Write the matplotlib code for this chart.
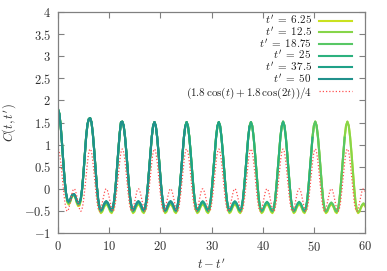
import numpy as np
import matplotlib
matplotlib.use('Agg')
import matplotlib.pyplot as plt
from matplotlib.ticker import FuncFormatter

plt.rcParams['mathtext.fontset'] = 'cm'

# waiting times t' and where each run stops (t_max = 75)
t_primes = [6.25, 12.5, 18.75, 25, 37.5, 50]
t_max = 75.0
labels = ["$t'\\;=\\;6.25$", "$t'\\;=\\;12.5$", "$t'\\;=\\;18.75$", "$t'\\;=\\;25$",
          "$t'\\;=\\;37.5$", "$t'\\;=\\;50$"]
colors = [plt.cm.viridis(v) for v in [0.92, 0.82, 0.74, 0.64, 0.57, 0.50]]

first_period = [1.80, 1.70, 1.42, 1.02, 0.58, 0.18, -0.10, -0.25, -0.29, -0.25, -0.17, -0.12,
                -0.12, -0.17, -0.26, -0.32, -0.31, -0.22, 0.00, 0.35, 0.78, 1.18, 1.46, 1.58]
steady_period = [1.52, 1.43, 1.18, 0.83, 0.43, 0.05, -0.24, -0.42, -0.48, -0.45, -0.37, -0.31,
                 -0.28, -0.31, -0.37, -0.45, -0.48, -0.42, -0.24, 0.05, 0.43, 0.83, 1.18, 1.43]
# peak height at the start of each later period
period_peaks = [1.60, 1.52, 1.51, 1.51, 1.51, 1.51, 1.52, 1.52, 1.52, 1.52]
# how much deeper the troughs of each curve sit
trough_offsets = [-0.07, -0.05, -0.03, -0.015, 0.0, 0.0]

step = np.pi / 12
base = list(first_period)
for pk in period_peaks:
    per = np.array(steady_period)
    per = np.where(per > 0, per * pk / steady_period[0], per)
    base += list(per)
base = np.array(base)
tt = np.arange(len(base)) * step

fig = plt.figure(figsize=(3.87, 2.71), dpi=100)
ax = fig.add_axes([0.1499, 0.1402, 0.7934, 0.8155])

for tp, lab, col, off in zip(t_primes, labels, colors, trough_offsets):
    vals = base + off * np.clip(-base / 0.3, 0, 1)
    keep = tt <= t_max - tp
    ax.plot(tt[keep], vals[keep], color=col, lw=1.5, solid_capstyle='butt')

# reference curve given in the legend
t_ref = np.linspace(0, 60, 1500)
c_ref = (1.8 * np.cos(t_ref) + 1.8 * np.cos(2 * t_ref)) / 4
ax.plot(t_ref, c_ref, color='#ff5050', lw=0.9, ls=(0, (1, 1.6)))

# legend drawn by hand so the text is right aligned like gnuplot
leg_labels = labels + [r'$(1.8\,\cos(t) + 1.8\,\cos(2t))/4$']
y0 = 0.961
dy = 0.0529
for i, lab in enumerate(leg_labels):
    y = y0 - i * dy
    if i < len(colors):
        ax.text(0.827, y, lab, transform=ax.transAxes, ha='right', va='center', fontsize=8, color='#202020')
        ax.plot([0.850, 0.958], [y, y], transform=ax.transAxes, color=colors[i], lw=1.5)
    else:
        ax.text(0.827, y - 0.01, lab, transform=ax.transAxes, ha='right', va='center', fontsize=8,
                color='#202020')
        ax.plot([0.850, 0.958], [y, y], transform=ax.transAxes, color='#ff5050', lw=0.9, ls=(0, (1, 1.6)))

ax.set_xlim(0, 60)
ax.set_ylim(-1, 4)
ax.set_xticks(np.arange(0, 61, 10))
ax.set_yticks(np.arange(-1, 4.01, 0.5))
fmt = FuncFormatter(lambda v, p: '$%g$' % v)
ax.xaxis.set_major_formatter(fmt)
ax.yaxis.set_major_formatter(fmt)
ax.tick_params(direction='in', top=True, right=True, length=4, width=0.8, color='#808080',
               labelsize=9, labelcolor='#303030', pad=5)
for s in ax.spines.values():
    s.set_color('#808080')
    s.set_linewidth(0.9)

ax.set_xlabel("$t - t'$", fontsize=9, color='#303030', labelpad=3)
ax.set_ylabel("$C(t,t')$", fontsize=9, color='#303030', labelpad=4)

fig.savefig('out.png', dpi=100)
